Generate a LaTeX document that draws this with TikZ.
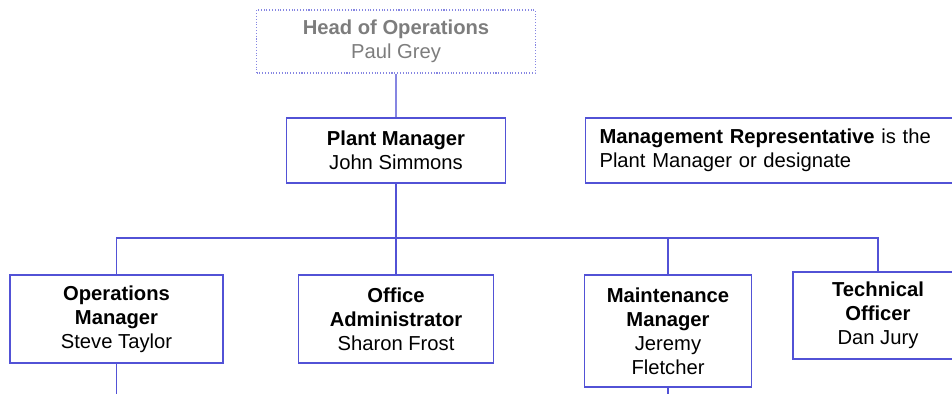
\documentclass[tikz,border=0pt]{standalone}
\usepackage{fontspec}
\setmainfont{Liberation Sans}
\definecolor{orgblue}{RGB}{82,82,214}
\definecolor{orggrey}{RGB}{125,125,125}
\tikzset{
  post/.style={draw=orgblue, line width=0.6pt, align=center, inner sep=0pt,
    font=\fontsize{11.5}{13.6}\selectfont},
  link/.style={draw=orgblue, line width=0.6pt},
}

\begin{document}
\begin{tikzpicture}
        \useasboundingbox (0,0) rectangle (19.04,7.88);
        \node[post, densely dotted, draw=orgblue!70, text=orggrey, minimum width=5.58cm, minimum height=1.26cm] (H) at (7.92,7.05) {\textbf{Head of Operations}\\Paul Grey};
        \node[post, minimum width=4.38cm, minimum height=1.3cm] (PM) at (7.92,4.87) {\textbf{Plant Manager}\\John Simmons};
        \node[post, anchor=west, align=left, text width=7cm, inner xsep=0.28cm, minimum height=1.3cm] (MR) at (11.7,4.87) {\textbf{Management Representative} is the\\Plant Manager or designate};

        \node[post, minimum width=4.26cm, minimum height=1.76cm] (Ops) at (2.33,1.5) {\textbf{Operations}\\\textbf{Manager}\\Steve Taylor};
        \node[post, minimum width=3.9cm, minimum height=1.76cm] (Office) at (7.92,1.5) {\textbf{Office}\\\textbf{Administrator}\\Sharon Frost};
        \node[post, minimum width=3.34cm, minimum height=2.24cm] (Maint) at (13.36,1.26) {\textbf{Maintenance}\\\textbf{Manager}\\Jeremy\\Fletcher};
        \node[post, minimum width=3.4cm, minimum height=1.74cm] (Tech) at (17.56,1.57) {\textbf{Technical}\\\textbf{Officer}\\Dan Jury};

        \coordinate (bus) at (0,3.12);
        \coordinate (bottom) at (0,0);
        %%%%%%%%%%
        \draw[link, draw=orgblue!70] (H) -- (PM);
        \draw[link] (PM) -- (Office);
        \draw[link] (Ops.north) |- (Tech.north |- bus) -- (Tech.north);
        \draw[link] (Maint.north) -- (Maint.north |- bus);
        \draw[link] (Ops.south) -- (Ops.south |- bottom);
        \draw[link] (Maint.south) -- (Maint.south |- bottom);
    \end{tikzpicture}
\end{document}
